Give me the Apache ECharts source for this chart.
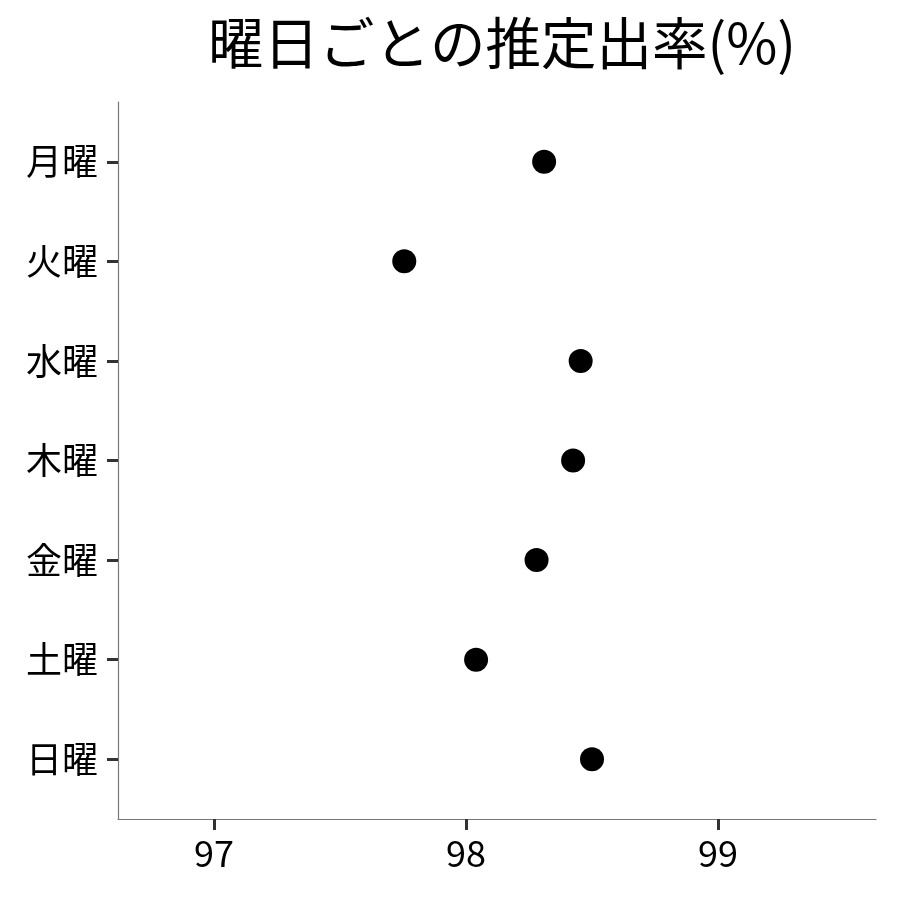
<!DOCTYPE html>
<html><head><meta charset="utf-8">
<script src="https://cdn.jsdelivr.net/npm/echarts@6/dist/echarts.min.js"></script>
<style>html,body{margin:0;padding:0;background:#fff}#c{width:900px;height:900px}</style>
</head><body><div id="c"></div>
<script>
const days = ['月曜','火曜','水曜','木曜','金曜','土曜','日曜'];
const rates = [98.31, 97.755, 98.455, 98.425, 98.28, 98.04, 98.50];
const xTicks = [97, 98, 99];
const titleText = '曜日ごとの推定出率(%)';

const FONT = '"Noto Sans CJK JP", "Noto Sans", sans-serif';
const chart = echarts.init(document.getElementById('c'), null, {renderer: 'canvas'});
const pts = rates.map((v, i) => [v, i + 1]);
chart.setOption({
  animation: false,
  backgroundColor: '#ffffff',
  title: {
    text: titleText, left: 497, top: 10, textAlign: 'center',
    textStyle: {fontFamily: FONT, fontSize: 55.5, fontWeight: 'normal', color: '#000'}
  },
  grid: {left: 118, right: 24, top: 102, bottom: 81, containLabel: false},
  xAxis: {
    type: 'value', min: 96.619, max: 99.627,
    splitLine: {show: false},
    axisLine: {show: true, lineStyle: {color: '#777', width: 1.2}},
    axisTick: {show: true, customValues: xTicks, length: 11, lineStyle: {color: '#333', width: 3}},
    axisLabel: {customValues: xTicks, fontFamily: FONT, fontSize: 36, color: '#000', margin: 16}
  },
  yAxis: {
    type: 'value', min: 0.4, max: 7.6, inverse: true,
    splitLine: {show: false},
    axisLine: {show: true, onZero: false, lineStyle: {color: '#777', width: 1.2}},
    axisTick: {show: true, customValues: [1,2,3,4,5,6,7], length: 11, lineStyle: {color: '#333', width: 3}},
    axisLabel: {customValues: [1,2,3,4,5,6,7], fontFamily: FONT, fontSize: 36, color: '#000', margin: 20,
      formatter: v => days[Math.round(v) - 1] || ''}
  },
  series: [{
    type: 'scatter', data: pts, symbol: 'circle', symbolSize: 24,
    itemStyle: {color: '#000', opacity: 1}
  }]
});
</script></body></html>
